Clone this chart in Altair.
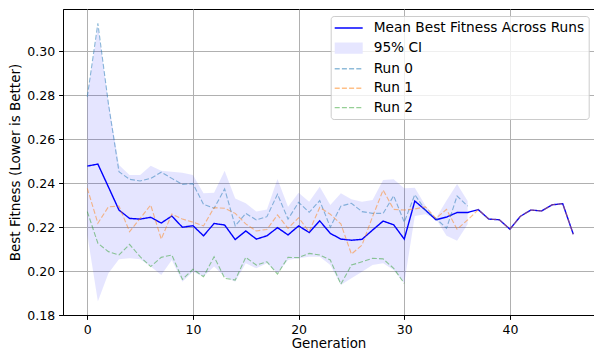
import altair as alt
import pandas as pd

# ---- data ----
series_names = ["Mean Best Fitness Across Runs", "95% CI", "Run 0", "Run 1", "Run 2"]

mean_best = [0.2477, 0.2486, 0.2382, 0.2277, 0.2239, 0.2236, 0.2244, 0.2218, 0.2250, 0.2199,
             0.2206, 0.2160, 0.2216, 0.2209, 0.2143, 0.2182, 0.2145, 0.2160, 0.2197, 0.2164,
             0.2205, 0.2175, 0.2228, 0.2171, 0.2145, 0.2140, 0.2144, 0.2186, 0.2227, 0.2210,
             0.2145, 0.2318, 0.2277, 0.2233, 0.2245, 0.2266, 0.2266, 0.2279, 0.2236, 0.2233,
             0.2190, 0.2249, 0.2277, 0.2273, 0.2301, 0.2306, 0.2167]

ci_upper = [0.2795, 0.3115, 0.2770, 0.2482, 0.2436, 0.2436, 0.2479, 0.2456, 0.2451, 0.2447,
            0.2436, 0.2353, 0.2356, 0.2456, 0.2330, 0.2308, 0.2270, 0.2280, 0.2418, 0.2292,
            0.2356, 0.2315, 0.2383, 0.2300, 0.2353, 0.2326, 0.2315, 0.2323, 0.2414, 0.2417,
            0.2376, 0.2378, 0.2298, 0.2240, 0.2320, 0.2395, 0.2318]

ci_lower = [0.2165, 0.1861, 0.1990, 0.2053, 0.2058, 0.2053, 0.2020, 0.1982, 0.2050, 0.1951,
            0.1997, 0.1974, 0.2020, 0.1974, 0.1951, 0.2035, 0.2012, 0.2035, 0.1990, 0.2050,
            0.2058, 0.2065, 0.2065, 0.2027, 0.1936, 0.1967, 0.1997, 0.2027, 0.2035, 0.2005,
            0.1944, 0.2250, 0.2258, 0.2236, 0.2160, 0.2137, 0.2212]

run0 = [0.2792, 0.3126, 0.2760, 0.2451, 0.2417, 0.2409, 0.2421, 0.2449, 0.2421, 0.2394,
        0.2397, 0.2303, 0.2285, 0.2373, 0.2205, 0.2262, 0.2232, 0.2247, 0.2349, 0.2236,
        0.2312, 0.2267, 0.2320, 0.2199, 0.2295, 0.2308, 0.2270, 0.2262, 0.2262, 0.2342,
        0.2222, 0.2347, 0.2277, 0.2239, 0.2194, 0.2341, 0.2295]

run1 = [0.2376, 0.2217, 0.2292, 0.2295, 0.2179, 0.2239, 0.2300, 0.2145, 0.2259, 0.2236,
        0.2222, 0.2205, 0.2288, 0.2285, 0.2262, 0.2214, 0.2182, 0.2189, 0.2255, 0.2194,
        0.2242, 0.2179, 0.2289, 0.2258, 0.2214, 0.2077, 0.2118, 0.2247, 0.2368, 0.2280,
        0.2277, 0.2282, 0.2292, 0.2239, 0.2280, 0.2190, 0.2232, 0.2279, 0.2236, 0.2233,
        0.2190, 0.2249, 0.2277, 0.2273, 0.2301, 0.2306, 0.2167]

run2 = [0.2270, 0.2126, 0.2088, 0.2073, 0.2121, 0.2065, 0.2020, 0.2062, 0.2073, 0.1962,
        0.2008, 0.1974, 0.2065, 0.1967, 0.1959, 0.2062, 0.2027, 0.2042, 0.1986, 0.2062,
        0.2061, 0.2080, 0.2073, 0.2050, 0.1940, 0.2027, 0.2042, 0.2058, 0.2055, 0.2012,
        0.1944]

x_ticks = [0, 10, 20, 30, 40]
y_ticks = [0.18, 0.20, 0.22, 0.24, 0.26, 0.28, 0.30]

# ---- tables ----
mean_df = pd.DataFrame({"series": series_names[0],
                        "generation": list(range(len(mean_best))),
                        "fitness": mean_best})
rows = []
for name, vals in [(series_names[2], run0), (series_names[3], run1), (series_names[4], run2)]:
    for g, v in enumerate(vals):
        rows.append({"series": name, "generation": g, "fitness": v})
runs_df = pd.DataFrame(rows)

ci_df = pd.DataFrame({"generation": list(range(len(ci_upper))),
                      "lower": ci_lower, "upper": ci_upper})

FONT = "DejaVu Sans"
colors = ["#0000ff", "#e6e6ff", "rgba(31,119,180,0.5)",
          "rgba(255,127,14,0.5)", "rgba(44,160,44,0.5)"]
dashes = [[1, 0], [1, 0], [5, 2.2], [5, 2.2], [5, 2.2]]

LINE_PATH = "M-2,0H2"
PATCH_PATH = ("M-2,-0.75H2M-2,-0.55H2M-2,-0.35H2M-2,-0.15H2"
              "M-2,0.05H2M-2,0.25H2M-2,0.45H2M-2,0.65H2")

x_enc = alt.X("generation:Q",
              scale=alt.Scale(domain=[-2.3, 47.96], nice=False, zero=False),
              axis=alt.Axis(values=x_ticks, title="Generation", titleFontSize=13.4,
                            titlePadding=1))
y_enc = alt.Y("fitness:Q",
              scale=alt.Scale(domain=[0.18, 0.3191], nice=False, zero=False),
              axis=alt.Axis(values=y_ticks, format=".2f",
                            title="Best Fitness (Lower is Better)",
                            titleFontSize=13.5, titlePadding=4))

legend = alt.Legend(
    title=None,
    symbolType={"expr": f"datum.value === '95% CI' ? '{PATCH_PATH}' : '{LINE_PATH}'"},
)
color_enc = alt.Color("series:N", scale=alt.Scale(domain=series_names, range=colors),
                      legend=legend)
dash_enc = alt.StrokeDash("series:N", scale=alt.Scale(domain=series_names, range=dashes),
                          legend=legend)

area = alt.Chart(ci_df).mark_area(fill="rgba(0,0,255,0.1)", opacity=1).encode(
    x=x_enc,
    y=alt.Y("lower:Q"),
    y2="upper:Q",
)

mean_line = alt.Chart(mean_df).mark_line(strokeWidth=1.4).encode(
    x=x_enc, y=y_enc, color=color_enc, strokeDash=dash_enc,
)

run_lines = alt.Chart(runs_df).mark_line(strokeWidth=1.1).encode(
    x=x_enc, y=y_enc, color=color_enc, strokeDash=dash_enc,
)

chart = alt.layer(area, mean_line, run_lines).properties(
    width=531, height=306,
    padding={"left": 63, "top": 9, "right": 0, "bottom": 37},
    autosize=alt.AutoSizeParams(type="none"),
    background="white",
).configure_view(
    stroke="black", strokeWidth=1
).configure_axis(
    labelFont=FONT, labelFontSize=12.5, labelColor="black",
    titleFont=FONT, titleFontWeight="normal", titleColor="black",
    tickColor="black", tickSize=4.4, tickWidth=1, labelPadding=4,
    domainColor="black", domainWidth=1,
    grid=True, gridColor="#b0b0b0", gridWidth=1,
).configure_legend(
    orient="none", legendX=267.7, legendY=7,
    fillColor="rgba(255,255,255,0.8)", strokeColor="#cccccc", cornerRadius=3,
    padding=4, symbolSize=196, symbolOffset=6, symbolStrokeWidth=1.4,
    labelFont=FONT, labelFontSize=13.7, labelColor="black", labelOffset=17,
    labelLimit=0, rowPadding=4.4,
)

chart.save("out.html", embed_options={"renderer": "svg", "actions": False})
